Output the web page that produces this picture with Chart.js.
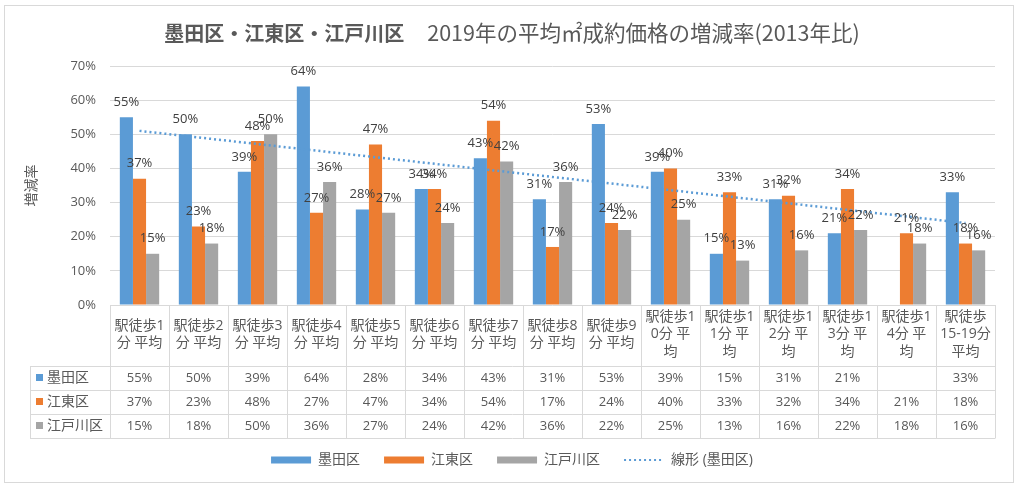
<!DOCTYPE html>
<html><head><meta charset="utf-8">
<script src="https://cdn.jsdelivr.net/npm/chart.js@4/dist/chart.umd.min.js"></script>
<style>html,body{margin:0;padding:0;background:#fff}#wrap{width:1024px;height:492px}</style>
</head><body><div id="wrap"><canvas id="c" width="1024" height="492"></canvas></div>
<script>
const categories = ['駅徒歩1分 平均','駅徒歩2分 平均','駅徒歩3分 平均','駅徒歩4分 平均','駅徒歩5分 平均','駅徒歩6分 平均','駅徒歩7分 平均','駅徒歩8分 平均','駅徒歩9分 平均','駅徒歩10分 平均','駅徒歩11分 平均','駅徒歩12分 平均','駅徒歩13分 平均','駅徒歩14分 平均','駅徒歩15-19分平均'];
const tickLabels = [['駅徒歩1','分 平均'],['駅徒歩2','分 平均'],['駅徒歩3','分 平均'],['駅徒歩4','分 平均'],['駅徒歩5','分 平均'],['駅徒歩6','分 平均'],['駅徒歩7','分 平均'],['駅徒歩8','分 平均'],['駅徒歩9','分 平均'],['駅徒歩1','0分 平','均'],['駅徒歩1','1分 平','均'],['駅徒歩1','2分 平','均'],['駅徒歩1','3分 平','均'],['駅徒歩1','4分 平','均'],['駅徒歩','15-19分','平均']];
const seriesNames = ['墨田区','江東区','江戸川区'];
const sumida = [55,50,39,64,28,34,43,31,53,39,15,31,21,null,33];
const koto = [37,23,48,27,47,34,54,17,24,40,33,32,34,21,18];
const edogawa = [15,18,50,36,27,24,42,36,22,25,13,16,22,18,16];
const trendSumida = [51,null,null,null,null,null,null,null,null,null,null,null,null,null,24];
const trendName = '線形 (墨田区)';
const yMin = 0, yMax = 70, yStep = 10;
const titleBold = '墨田区・江東区・江戸川区';
const titleRest = '2019年の平均㎡成約価格の増減率(2013年比)';
const yTitle = '増減率';

const colors = ['#5b9bd5','#ed7d31','#a5a5a5'];
const series = [sumida, koto, edogawa];
const FONT = "'Open Sans','Noto Sans CJK JP',sans-serif";
const TXT = '#595959';
const GRID = '#d9d9d9';
Chart.defaults.font.family = FONT;
Chart.defaults.color = TXT;

const framePlugin = {
  id: 'frame',
  beforeDraw(chart) {
    const ctx = chart.ctx;
    ctx.save();
    ctx.fillStyle = '#fff';
    ctx.fillRect(0, 0, chart.width, chart.height);
    ctx.strokeStyle = GRID;
    ctx.lineWidth = 1;
    ctx.strokeRect(4.5, 5.5, 1009, 477);
    ctx.restore();
  },
  afterDraw(chart) {
    const ctx = chart.ctx;
    ctx.save();
    ctx.textBaseline = 'middle';
    ctx.fillStyle = TXT;
    const f1 = "bold 20px 'Noto Sans CJK JP',sans-serif";
    const f2 = "21.5px 'Noto Sans CJK JP',sans-serif";
    ctx.font = f1; const w1 = ctx.measureText(titleBold).width;
    ctx.font = f2; const w2 = ctx.measureText(titleRest).width;
    const gap = 23;
    let x = 512 - (w1 + gap + w2) / 2;
    ctx.textAlign = 'left';
    ctx.font = f1; ctx.fillText(titleBold, x, 33);
    ctx.font = f2; ctx.fillText(titleRest, x + w1 + gap, 33);
    ctx.restore();
  }
};

const labelPlugin = {
  id: 'barLabels',
  afterDatasetsDraw(chart) {
    const ctx = chart.ctx;
    ctx.save();
    ctx.font = '13px ' + FONT;
    ctx.fillStyle = '#404040';
    ctx.textAlign = 'center';
    ctx.textBaseline = 'middle';
    for (let i = 0; i < 3; i++) {
      const meta = chart.getDatasetMeta(i);
      meta.data.forEach((el, j) => {
        const v = series[i][j];
        if (v === null || v === undefined) return;
        ctx.fillText(v + '%', el.x, el.y - 15);
      });
    }
    ctx.restore();
  }
};

const tablePlugin = {
  id: 'dataTable',
  afterDraw(chart) {
    const ctx = chart.ctx;
    const xs = chart.scales.x;
    const n = categories.length;
    const left = xs.left, right = xs.right;
    const cw = (right - left) / n;
    const top = chart.chartArea.bottom;
    const hb = top + 61;
    const rh = 24;
    const tableLeft = 30;
    const bottom = hb + rh * 3;
    const px = v => Math.round(v) + 0.5;
    ctx.save();
    ctx.strokeStyle = GRID;
    ctx.lineWidth = 1;
    ctx.beginPath();
    for (let k = 0; k <= 3; k++) {
      const y = px(hb + rh * k);
      ctx.moveTo(tableLeft, y); ctx.lineTo(right, y);
    }
    for (let i = 0; i <= n; i++) {
      const x = px(left + cw * i);
      ctx.moveTo(x, top); ctx.lineTo(x, px(bottom));
    }
    ctx.moveTo(px(tableLeft), px(hb)); ctx.lineTo(px(tableLeft), px(bottom));
    ctx.stroke();
    ctx.textBaseline = 'middle';
    for (let r = 0; r < 3; r++) {
      const yc = hb + rh * r + rh / 2;
      ctx.fillStyle = colors[r];
      ctx.fillRect(36, Math.round(yc) - 4, 7, 7);
      ctx.fillStyle = TXT;
      ctx.font = '14px ' + FONT;
      ctx.textAlign = 'left';
      ctx.fillText(seriesNames[r], 47, yc);
      ctx.font = '13px ' + FONT;
      ctx.textAlign = 'center';
      series[r].forEach((v, j) => {
        if (v === null || v === undefined) return;
        ctx.fillText(v + '%', xs.getPixelForValue(j), yc);
      });
    }
    ctx.restore();
  }
};

new Chart(document.getElementById('c'), {
  type: 'bar',
  data: {
    labels: tickLabels,
    datasets: [
      { label: seriesNames[0], data: sumida, backgroundColor: colors[0], order: 1, categoryPercentage: 0.667, barPercentage: 1 },
      { label: seriesNames[1], data: koto, backgroundColor: colors[1], order: 1, categoryPercentage: 0.667, barPercentage: 1 },
      { label: seriesNames[2], data: edogawa, backgroundColor: colors[2], order: 1, categoryPercentage: 0.667, barPercentage: 1 },
      { type: 'line', label: trendName, data: trendSumida, borderColor: colors[0], borderWidth: 2.5, borderDash: [2, 3], pointRadius: 0, spanGaps: true, fill: false, order: 0 }
    ]
  },
  options: {
    responsive: false,
    animation: false,
    layout: { padding: { top: 66, left: 0, right: 0, bottom: 15 } },
    plugins: {
      title: { display: false },
      tooltip: { enabled: false },
      legend: {
        position: 'bottom',
        labels: {
          usePointStyle: true,
          pointStyleWidth: 40,
          boxHeight: 7,
          padding: 24,
          color: TXT,
          font: { size: 14 },
          generateLabels: () => [
            { text: seriesNames[0], fillStyle: colors[0], strokeStyle: colors[0], lineWidth: 0, pointStyle: 'rect', datasetIndex: 0, hidden: false, fontColor: TXT },
            { text: seriesNames[1], fillStyle: colors[1], strokeStyle: colors[1], lineWidth: 0, pointStyle: 'rect', datasetIndex: 1, hidden: false, fontColor: TXT },
            { text: seriesNames[2], fillStyle: colors[2], strokeStyle: colors[2], lineWidth: 0, pointStyle: 'rect', datasetIndex: 2, hidden: false, fontColor: TXT },
            { text: trendName, fillStyle: 'rgba(0,0,0,0)', strokeStyle: colors[0], lineWidth: 2, lineDash: [2, 3], pointStyle: 'line', datasetIndex: 3, hidden: false, fontColor: TXT }
          ]
        }
      }
    },
    scales: {
      x: {
        grid: { display: false, drawTicks: false },
        border: { display: false },
        ticks: { autoSkip: false, maxRotation: 0, minRotation: 0, crossAlign: 'center', padding: 12, color: TXT, font: { size: 14, lineHeight: 1.25 } },
        afterFit(s) { s.height = 124; }
      },
      y: {
        min: yMin, max: yMax,
        grid: { color: GRID, drawTicks: false },
        border: { display: false },
        ticks: { stepSize: yStep, padding: 14, color: TXT, font: { size: 13 }, callback: v => v + '%' },
        title: { display: true, text: yTitle, color: TXT, font: { size: 14 }, padding: { top: 24, bottom: 0 } },
        afterFit(s) { s.width = 110; }
      },
      yR: {
        position: 'right',
        display: true,
        grid: { display: false, drawTicks: false },
        border: { display: false },
        ticks: { display: false },
        afterFit(s) { s.width = 29; }
      }
    }
  },
  plugins: [framePlugin, labelPlugin, tablePlugin]
});
</script>
</body></html>
